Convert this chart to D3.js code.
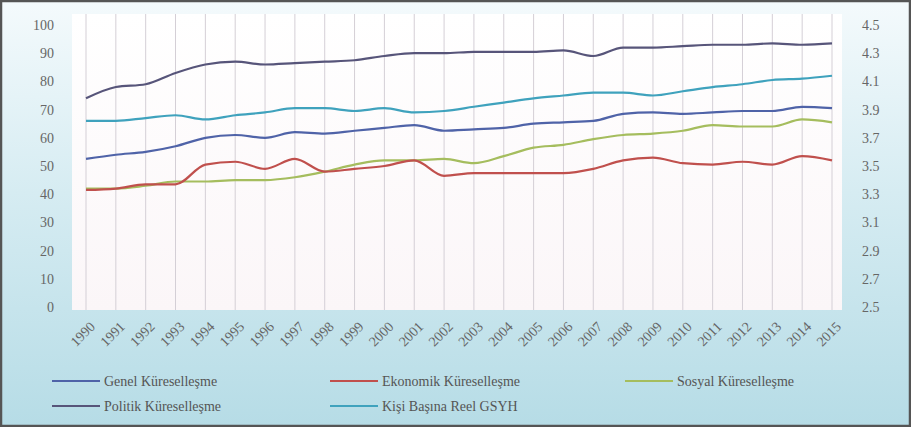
<!DOCTYPE html>
<html><head><meta charset="utf-8">
<script src="https://cdn.jsdelivr.net/npm/d3@7"></script>
<style>body{margin:0;padding:0;}svg{display:block;}</style>
</head><body>
<script>
const years = [1990,1991,1992,1993,1994,1995,1996,1997,1998,1999,2000,2001,2002,2003,2004,2005,2006,2007,2008,2009,2010,2011,2012,2013,2014,2015];
const genel = [52.5,54,55,57,60,61,60,62,61.5,62.5,63.5,64.5,62.5,63,63.5,65,65.5,66,68.5,69,68.5,69,69.5,69.5,71,70.5];
const ekonomik = [41.5,42,43.5,43.5,50.5,51.5,49,52.5,48,49,50,52,46.5,47.5,47.5,47.5,47.5,49,52,53,51,50.5,51.5,50.5,53.5,52];
const sosyal = [42,42,43,44.5,44.5,45,45,46,48,50.5,52,52,52.5,51,53.5,56.5,57.5,59.5,61,61.5,62.5,64.5,64,64,66.5,65.5];
const politik = [74,78,79,83,86,87,86,86.5,87,87.5,89,90,90,90.5,90.5,90.5,91,89,92,92,92.5,93,93,93.5,93,93.5];
const gsyh = [3.82,3.82,3.84,3.86,3.83,3.86,3.88,3.91,3.91,3.89,3.91,3.88,3.89,3.92,3.95,3.98,4.00,4.02,4.02,4.00,4.03,4.06,4.08,4.11,4.12,4.14];
const leftTicks = [0,10,20,30,40,50,60,70,80,90,100];
const rightTicks = [2.5,2.7,2.9,3.1,3.3,3.5,3.7,3.9,4.1,4.3,4.5];
const seriesNames = ["Genel Küreselleşme","Ekonomik Küreselleşme","Sosyal Küreselleşme","Politik Küreselleşme","Kişi Başına Reel GSYH"];

const W=911,H=427;
const svg=d3.select("body").append("svg").attr("width",W).attr("height",H);
const defs=svg.append("defs");
const bg=defs.append("linearGradient").attr("id","bg").attr("x1",0).attr("y1",0).attr("x2",0).attr("y2",1);
bg.append("stop").attr("offset","0%").attr("stop-color","#f4fafc");
bg.append("stop").attr("offset","45%").attr("stop-color","#d6ecf2");
bg.append("stop").attr("offset","100%").attr("stop-color","#b6dce6");
const pg=defs.append("linearGradient").attr("id","pg").attr("x1",0).attr("y1",0).attr("x2",0).attr("y2",1);
pg.append("stop").attr("offset","0%").attr("stop-color","#ffffff");
pg.append("stop").attr("offset","100%").attr("stop-color","#fbf6f8");

svg.append("rect").attr("x",1).attr("y",1).attr("width",W-2).attr("height",H-2)
  .attr("fill","url(#bg)").attr("stroke","#555").attr("stroke-width",2.5);

const x=d3.scalePoint().domain(years).range([86,832]);
const yL=d3.scaleLinear().domain([0,100]).range([307,25]);
const yR=d3.scaleLinear().domain([2.5,4.5]).range([307,25]);

svg.append("rect").attr("x",72).attr("y",14).attr("width",770).attr("height",296).attr("fill","url(#pg)");

// vertical gridlines
svg.append("g").selectAll("line").data(years).join("line")
  .attr("x1",d=>x(d)).attr("x2",d=>x(d)).attr("y1",14).attr("y2",310)
  .attr("stroke","#d4cfd6").attr("stroke-width",1);

// left axis
const la=svg.append("g").attr("transform","translate(72,0)")
  .call(d3.axisLeft(yL).tickValues(leftTicks).tickSize(0).tickPadding(18));
la.select(".domain").remove();
la.selectAll("text").attr("font-family","Liberation Serif").attr("font-size",14).attr("fill","#666");

// right axis
const ra=svg.append("g").attr("transform","translate(842,0)")
  .call(d3.axisRight(yR).tickValues(rightTicks).tickFormat(d3.format(".1f")).tickSize(0).tickPadding(20));
ra.select(".domain").remove();
ra.selectAll("text").attr("font-family","Liberation Serif").attr("font-size",14).attr("fill","#666");

// x axis
const xa=svg.append("g").attr("transform","translate(0,310)")
  .call(d3.axisBottom(x).tickSize(0).tickPadding(0));
xa.select(".domain").remove();
xa.selectAll(".tick text").attr("font-family","Liberation Serif").attr("font-size",14).attr("fill","#666")
  .attr("text-anchor","end").attr("x",0).attr("y",0).attr("dy","0.35em")
  .attr("transform","translate(6,14) rotate(-45)");

const colors=["#4f63a8","#c0504d","#a5bd5e","#57557a","#3fa2bd"];
const data=[genel,ekonomik,sosyal,politik];
const lineL=d3.line().x((d,i)=>x(years[i])).y(d=>yL(d)).curve(d3.curveMonotoneX);
const lineR=d3.line().x((d,i)=>x(years[i])).y(d=>yR(d)).curve(d3.curveMonotoneX);
const order=[2,1,0,3];
svg.append("path").datum(gsyh).attr("d",lineR).attr("fill","none").attr("stroke",colors[4]).attr("stroke-width",2.2);
order.forEach(k=>{
  svg.append("path").datum(data[k]).attr("d",lineL).attr("fill","none").attr("stroke",colors[k]).attr("stroke-width",2.2);
});

// legend
const legPos=[[52,381],[330,381],[625,381],[52,406],[330,406]];
const lg=svg.append("g");
seriesNames.forEach((n,i)=>{
  const [lx,ly]=legPos[i];
  lg.append("line").attr("x1",lx).attr("x2",lx+48).attr("y1",ly).attr("y2",ly).attr("stroke",colors[i]).attr("stroke-width",2.2);
  lg.append("text").attr("x",lx+52).attr("y",ly+5).text(n).attr("font-family","Liberation Serif").attr("font-size",14).attr("fill","#555");
});
</script>
</body></html>
